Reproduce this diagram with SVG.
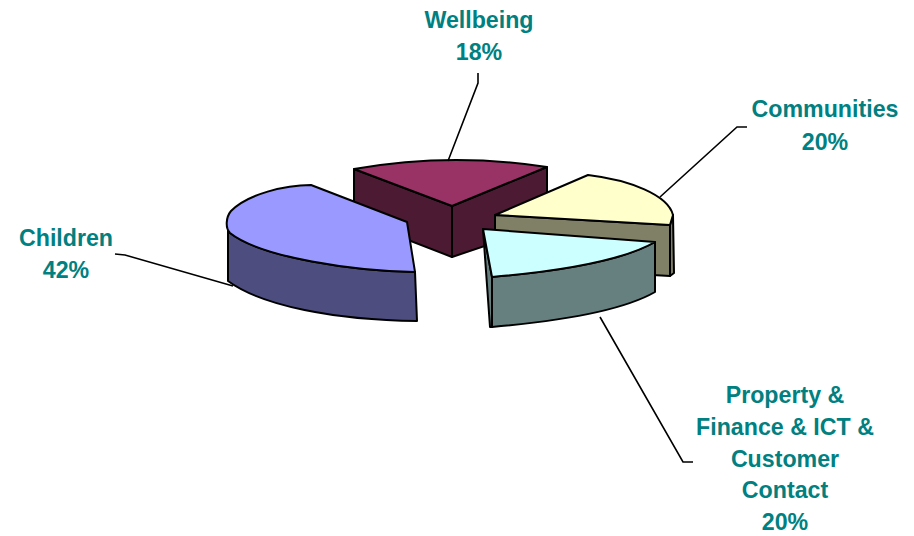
<svg xmlns="http://www.w3.org/2000/svg" width="914" height="536" viewBox="0 0 914 536">
<style>
.lbl{font-family:"Liberation Sans",Arial,sans-serif;font-weight:bold;font-size:23.2px;fill:#008080;text-anchor:middle}
.edge{stroke:#000;stroke-width:2;stroke-linejoin:round}
.lead{fill:none;stroke:#000;stroke-width:1.6}
</style>
<rect width="914" height="536" fill="#fff"/>
<g id="wellbeing">
<polygon class="edge" fill="#4D1A33" points="354,169 452,206 452,257 354,219"/>
<polygon class="edge" fill="#4D1A33" points="452,206 547,167 547,225 452,257"/>
<path class="edge" fill="#993366" d="M354,169 Q450,152 547,167 L452,206 Z"/>
</g>
<g id="communities">
<polygon class="edge" fill="#808066" points="495,215 670,225 670,276 495,266"/>
<polygon class="edge" fill="#808066" points="670,225 673,215 674,273 670,276"/>
<path class="edge" fill="#FFFFCC" d="M495,215 L588,175 C630,180 668,195 673,215 L670,225 Z"/>
</g>
<g id="children">
<path class="edge" fill="#4D4D80" d="M228,222 L228,281 C262,306 335,320 417,321 L415,272 C355,271 262,258 230,233 Z"/>
<path class="edge" fill="#9999FF" d="M311,185 L407,222 L415,272 C355,271 262,258 230,233 C225,228 226,217 231,211 C248,194 285,185 311,185 Z"/>
</g>
<g id="property">
<polygon class="edge" fill="#668080" points="483,229 492,277 492,327 490,327"/>
<path class="edge" fill="#668080" d="M492,277 C550,272 620,262 655,242 L655,292 C620,312 550,322 492,327 Z"/>
<path class="edge" fill="#CCFFFF" d="M483,229 L655,242 C620,262 550,272 492,277 Z"/>
</g>
<g id="connectors">
<polyline class="lead" points="478,73 478,83 448,161"/>
<polyline class="lead" points="747,127 737,127 660,197"/>
<polyline class="lead" points="600,317 683,462 693,462"/>
<polyline class="lead" points="115,254 125,255 233,286"/>
</g>
<g id="labels">
<text class="lbl" x="479" y="28">Wellbeing</text>
<text class="lbl" x="479" y="60">18%</text>
<text class="lbl" x="825" y="117">Communities</text>
<text class="lbl" x="825" y="150">20%</text>
<text class="lbl" x="66" y="246">Children</text>
<text class="lbl" x="66" y="278">42%</text>
<text class="lbl" x="785" y="403">Property &amp;</text>
<text class="lbl" x="785" y="435">Finance &amp; ICT &amp;</text>
<text class="lbl" x="785" y="467">Customer</text>
<text class="lbl" x="785" y="498">Contact</text>
<text class="lbl" x="785" y="530">20%</text>
</g>
</svg>
